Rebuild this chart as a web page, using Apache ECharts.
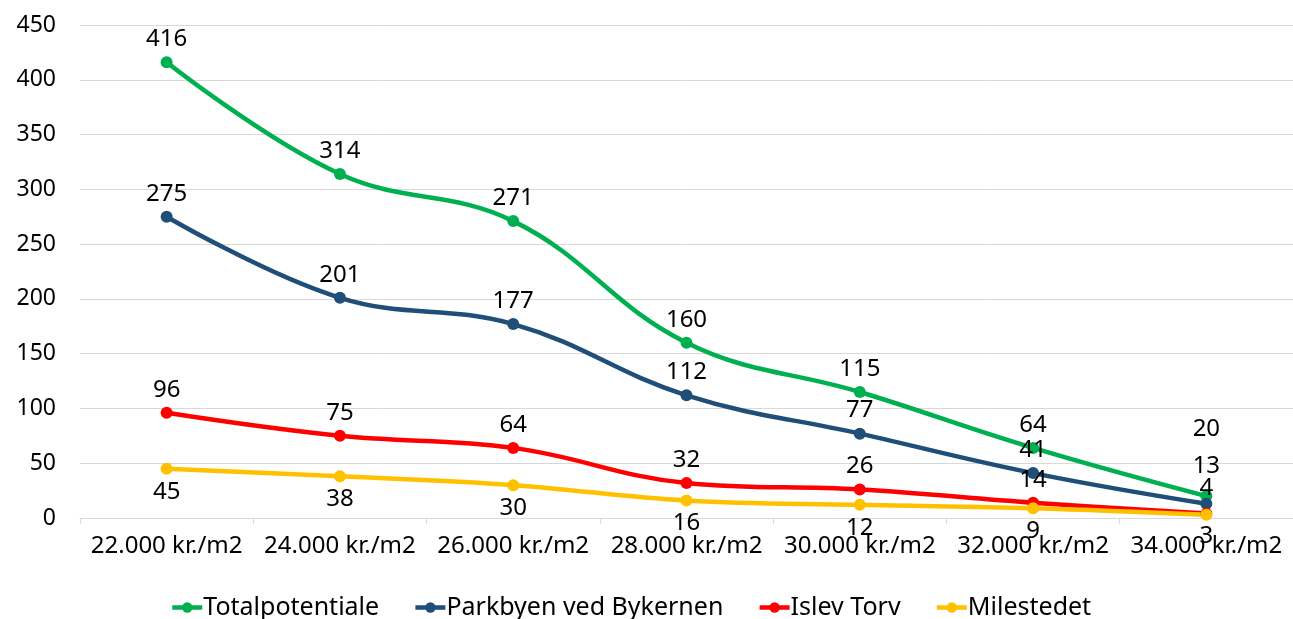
<!DOCTYPE html>
<html>
<head>
<meta charset="utf-8">
<script src="https://cdn.jsdelivr.net/npm/echarts@6/dist/echarts.min.js"></script>
<style>
  html, body { margin: 0; padding: 0; background: #fff; }
  #chart { width: 1293px; height: 619px; }
</style>
</head>
<body>
<div id="chart"></div>
<script>
// Price levels on the x axis
const categories = ['22.000 kr./m2', '24.000 kr./m2', '26.000 kr./m2', '28.000 kr./m2', '30.000 kr./m2', '32.000 kr./m2', '34.000 kr./m2'];

// Potential per price level
const totalpotentiale = [416, 314, 271, 160, 115, 64, 20];
const parkbyen = [275, 201, 177, 112, 77, 41, 13];
const islevTorv = [96, 75, 64, 32, 26, 14, 4];
const milestedet = [45, 38, 30, 16, 12, 9, 3];

const yTicks = [0, 50, 100, 150, 200, 250, 300, 350, 400, 450];

const FONT = '"Noto Sans", "Open Sans", sans-serif';

// Label distances for the last point, where the four series crowd together
function withLastLabel(values, position, distance) {
  return values.map((v, i) => {
    if (i !== values.length - 1) return v;
    return { value: v, label: { position: position, distance: distance } };
  });
}

function lineSeries(name, color, values, position, lastDistance) {
  return {
    name: name,
    type: 'line',
    smooth: 0.4,
    symbol: 'circle',
    symbolSize: 12,
    lineStyle: { width: 4.5, color: color },
    itemStyle: { color: color },
    label: {
      show: true,
      position: position,
      distance: 5,
      color: '#000',
      fontSize: 24,
      fontFamily: FONT
    },
    data: withLastLabel(values, position, lastDistance)
  };
}

const chart = echarts.init(document.getElementById('chart'));
chart.setOption({
  animation: false,
  textStyle: { fontFamily: FONT },
  grid: { left: 80, right: 0, top: 25, bottom: 101, containLabel: false },
  legend: {
    top: 590,
    left: 165,
    itemWidth: 30,
    itemHeight: 13,
    itemGap: 34,
    lineStyle: { width: 4.5 },
    textStyle: { fontSize: 25, color: '#000', fontFamily: FONT, padding: [0, 0, 0, -4] },
    data: ['Totalpotentiale', 'Parkbyen ved Bykernen', 'Islev Torv', 'Milestedet']
  },
  xAxis: {
    type: 'category',
    data: categories,
    boundaryGap: true,
    axisLine: { lineStyle: { color: '#d9d9d9', width: 1 } },
    axisTick: { show: true, length: 6, lineStyle: { color: '#d9d9d9' } },
    axisLabel: { interval: 0, hideOverlap: false, fontSize: 24, color: '#000', margin: 16, fontFamily: FONT }
  },
  yAxis: {
    type: 'value',
    min: yTicks[0],
    max: yTicks[yTicks.length - 1],
    interval: 50,
    axisLine: { show: false },
    axisTick: { show: false },
    splitLine: { lineStyle: { color: '#d9d9d9', width: 1 } },
    axisLabel: { fontSize: 23, color: '#000', margin: 24, fontFamily: FONT }
  },
  series: [
    lineSeries('Totalpotentiale', '#00b050', totalpotentiale, 'top', 49),
    lineSeries('Parkbyen ved Bykernen', '#1f4e79', parkbyen, 'top', 20),
    lineSeries('Islev Torv', '#ff0000', islevTorv, 'top', 7),
    lineSeries('Milestedet', '#ffc000', milestedet, 'bottom', 3)
  ]
});
</script>
</body>
</html>
